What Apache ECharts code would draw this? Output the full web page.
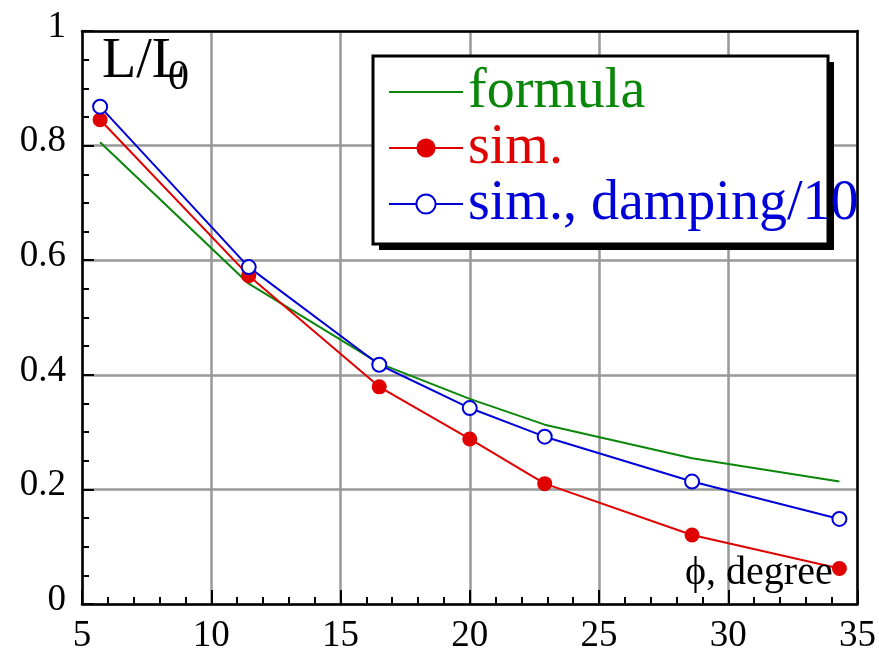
<!DOCTYPE html>
<html><head><meta charset="utf-8">
<script src="https://cdn.jsdelivr.net/npm/echarts@6/dist/echarts.min.js"></script>
<style>html,body{margin:0;padding:0;background:#fff}#c{width:879px;height:658px}</style>
</head><body><div id="c"></div>
<script>
const phi = [5.7, 11.45, 16.5, 20.0, 22.9, 28.6, 34.3];
const formula = [0.806, 0.559, 0.42, 0.358, 0.313, 0.2545, 0.2137];
const sim = [0.845, 0.573, 0.379, 0.288, 0.21, 0.1205, 0.062];
const simDamp = [0.868, 0.588, 0.4175, 0.342, 0.292, 0.2137, 0.1485];
const xTickLabels = ['5', '10', '15', '20', '25', '30', '35'];
const yTickLabels = ['0', '0.2', '0.4', '0.6', '0.8', '1'];
const seriesNames = ['formula', 'sim.', 'sim., damping/10'];

const FONT = 'Liberation Serif';
const GREEN = '#0a870a', RED = '#e00000', BLUE = '#0000d8';

const chart = echarts.init(document.getElementById('c'), null, {renderer: 'canvas'});
const pairs = ys => phi.map((x, i) => [x, ys[i]]);
const tickRich = {t: {fontFamily: FONT, fontSize: 37, color: '#000'}};

const gridLine = {show: true, lineStyle: {color: '#999999', width: 2.5, type: 'solid'}};
chart.setOption({
  backgroundColor: '#fff',
  animation: false,
  textStyle: {fontFamily: FONT},
  grid: {left: 82, right: 19, top: 31, bottom: 54},
  xAxis: [{
    type: 'value', min: 5, max: 35, interval: 5,
    axisLine: {show: true, onZero: false, lineStyle: {color: '#000', width: 2.5}},
    axisTick: {show: true, inside: true, length: 14, lineStyle: {color: '#000', width: 2}},
    minorTick: {show: true, splitNumber: 5, length: 7, lineStyle: {color: '#000', width: 2}},
    axisLabel: {
      color: '#000', fontSize: 37, fontFamily: FONT, margin: 14, rich: tickRich,
      formatter: v => '{t|' + xTickLabels[Math.round((v - 5) / 5)] + '}'
    },
    splitLine: gridLine
  }, {
    type: 'value', min: 5, max: 35, position: 'top',
    axisLine: {show: true, onZero: false, lineStyle: {color: '#000', width: 2.5}},
    axisTick: {show: false}, axisLabel: {show: false}, splitLine: {show: false}
  }],
  yAxis: [{
    type: 'value', min: 0, max: 1, interval: 0.2,
    axisLine: {show: true, onZero: false, lineStyle: {color: '#000', width: 2.5}},
    axisTick: {show: true, inside: true, length: 12, lineStyle: {color: '#000', width: 2}},
    minorTick: {show: true, splitNumber: 4, length: 7, lineStyle: {color: '#000', width: 2}},
    axisLabel: {
      color: '#000', fontSize: 37, fontFamily: FONT, margin: 16, padding: [0, 0, 8, 0], rich: tickRich,
      formatter: v => '{t|' + yTickLabels[Math.round(v / 0.2)] + '}'
    },
    splitLine: gridLine
  }, {
    type: 'value', min: 0, max: 1, position: 'right',
    axisLine: {show: true, onZero: false, lineStyle: {color: '#000', width: 2.5}},
    axisTick: {show: false}, axisLabel: {show: false}, splitLine: {show: false}
  }],
  legend: {
    orient: 'vertical', left: 388, top: 64, padding: 0, itemGap: 0,
    itemWidth: 74, itemHeight: 24, z: 10,
    textStyle: {fontSize: 56, fontFamily: FONT, lineHeight: 55},
    data: [
      {name: seriesNames[0], textStyle: {color: GREEN}, itemStyle: {color: 'transparent', borderWidth: 0}},
      {name: seriesNames[1], textStyle: {color: RED}},
      {name: seriesNames[2], textStyle: {color: BLUE}}
    ]
  },
  graphic: [
    {type: 'rect', z: 5, shape: {x: 379, y: 62, width: 455, height: 188},
      style: {fill: '#000'}},
    {type: 'rect', z: 6, shape: {x: 373, y: 56, width: 455, height: 188},
      style: {fill: '#fff', stroke: '#000', lineWidth: 3}},
    {type: 'text', z: 6, left: 102, top: 34,
      style: {text: 'L/L', font: "56px 'Liberation Serif'", fill: '#000'}},
    {type: 'text', z: 6, left: 168, top: 57,
      style: {text: '0', font: "42px 'Liberation Serif'", fill: '#000'}},
    {type: 'text', z: 6, left: 685, top: 553,
      style: {text: 'ϕ, degree', font: "40px 'Liberation Serif'", fill: '#000'}}
  ],
  series: [
    {name: seriesNames[0], type: 'line', data: pairs(formula), symbol: 'none', showSymbol: false,
      lineStyle: {color: GREEN, width: 2}, itemStyle: {color: GREEN}, z: 3},
    {name: seriesNames[1], type: 'line', data: pairs(sim), symbol: 'circle', symbolSize: 15,
      lineStyle: {color: RED, width: 2}, itemStyle: {color: RED}, z: 3},
    {name: seriesNames[2], type: 'line', data: pairs(simDamp), symbol: 'emptyCircle', symbolSize: 14,
      lineStyle: {color: BLUE, width: 2}, itemStyle: {color: BLUE, borderColor: BLUE, borderWidth: 2}, z: 3}
  ]
});
</script></body></html>
